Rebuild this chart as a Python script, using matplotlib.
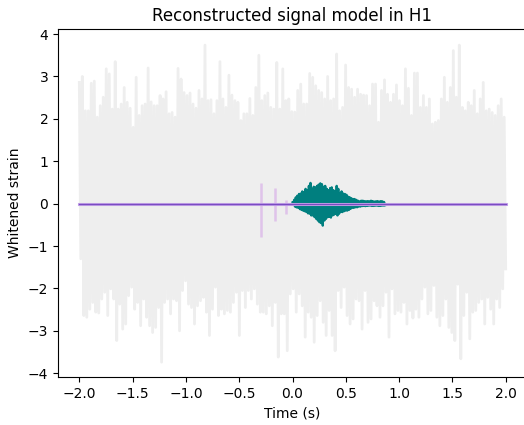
import numpy as np
import matplotlib
matplotlib.use("Agg")
import matplotlib.pyplot as plt

# Whitened noise envelope (upper / lower sample values), -2 s .. 2 s
noise_top = [
    2.86, 3.00, 2.19, 2.19, 2.84, 2.89, 2.04, 2.31, 2.51, 3.18, 3.06, 2.23, 3.35, 2.23, 2.35, 2.74,
    2.39, 2.25, 1.80, 2.98, 2.08, 2.31, 2.35, 3.20, 2.40, 2.31, 2.31, 2.55, 2.47, 2.64, 2.12, 2.15,
    2.04, 3.19, 2.94, 2.62, 2.55, 2.61, 2.35, 2.25, 2.67, 2.47, 3.74, 2.43, 2.45, 2.12, 2.43,
    3.35, 2.47, 2.27, 3.03, 2.56, 2.43, 2.39, 1.96, 2.12, 2.12, 2.48, 2.08, 2.74, 3.50, 2.43, 2.55,
    2.61, 2.27, 2.23, 3.33, 2.23, 3.18, 2.43, 2.47, 2.17, 2.16, 2.67, 2.82, 2.35, 2.35, 3.07, 2.98,
    2.78, 2.67, 2.62, 2.47, 3.00, 2.43, 2.47, 3.53, 2.19, 2.27, 3.27, 2.74, 2.70, 2.51, 2.70, 2.58,
    2.56, 2.55, 2.31, 2.82, 2.82, 1.92, 2.67, 2.92, 2.58, 2.39, 2.58, 2.80, 2.43, 2.31, 3.18, 2.72,
    2.08, 3.08, 3.08, 2.27, 2.55, 2.27, 2.47, 1.88, 1.92, 1.96, 2.47, 2.98, 2.39, 2.74, 3.61, 2.51,
    3.74, 2.27, 2.19, 2.39, 2.31, 2.67, 2.12, 2.47, 2.86, 2.19, 2.23, 2.15, 2.08, 2.31, 2.47, 2.04,
]
noise_bot = [
    -1.30, -2.64, -2.68, -2.49, -2.33, -2.56, -2.58, -2.25, -2.09, -2.64, -2.01, -2.25, -3.23, -2.37,
    -2.96, -2.84, -2.17, -1.97, -2.49, -2.33, -2.88, -2.25, -2.68, -2.88, -3.04, -2.92, -2.45, -3.74,
    -2.33, -2.25, -2.60, -2.25, -2.29, -3.00, -2.05, -1.82, -2.37, -2.45, -2.84, -2.41, -2.29, -2.21,
    -2.56, -3.11, -2.49, -1.97, -2.64,
    -2.49, -2.60, -2.52, -2.56, -2.33, -2.09, -3.11, -2.05, -2.45, -2.05, -2.25, -2.01, -2.37, -2.56,
    -2.56, -2.60, -2.41, -2.88, -2.33, -3.62, -2.60, -2.60, -3.47, -2.13, -2.01, -2.56, -2.13, -2.41,
    -3.15, -2.56, -2.68, -3.27, -2.64, -2.29, -2.80, -3.11, -2.52, -3.11, -3.47, -2.05, -2.45, -1.97,
    -2.64, -2.84, -2.72, -2.25, -2.29, -2.96,
    -2.05, -2.80, -2.72, -2.29, -2.41, -2.68, -2.41, -2.09, -3.15, -2.01, -2.60, -2.52, -2.56, -2.33,
    -2.84, -2.52, -2.70, -2.49, -2.68, -2.25, -1.97, -2.60, -2.52, -1.93, -2.68, -2.88, -2.64, -2.25,
    -2.92, -3.04, -3.23, -1.90, -3.66, -2.64, -2.09, -3.19, -2.56, -2.52, -2.33, -2.25, -2.84, -2.21,
    -2.49, -2.84, -2.25, -2.45, -2.01, -1.54,
]

# Reconstructed signal (teal) envelope, 0 s .. 0.867 s
signal_top = [
    0.03, 0.09, 0.15, 0.19, 0.23, 0.24, 0.29, 0.27, 0.35, 0.31, 0.42, 0.49, 0.35, 0.40, 0.385, 0.42,
    0.45, 0.48, 0.46, 0.40, 0.42, 0.35, 0.32, 0.37, 0.385, 0.32, 0.29, 0.42, 0.35, 0.24, 0.29, 0.24,
    0.23, 0.21, 0.165, 0.15, 0.13, 0.11, 0.11, 0.09, 0.07, 0.055, 0.07, 0.07, 0.06, 0.055, 0.06,
    0.055, 0.07, 0.06, 0.05, 0.055, 0.06, 0.05, 0.06, 0.055, 0.04,
]
signal_bot = [
    -0.02, -0.07, -0.09, -0.10, -0.13, -0.15, -0.165, -0.18, -0.20, -0.23, -0.24, -0.28, -0.28, -0.32,
    -0.36, -0.40, -0.44, -0.46, -0.52, -0.40, -0.36, -0.32, -0.31, -0.33, -0.28, -0.26, -0.24, -0.28,
    -0.24, -0.20, -0.20, -0.18, -0.165, -0.165, -0.15, -0.126, -0.10, -0.10, -0.087, -0.087, -0.07,
    -0.07, -0.06, -0.055, -0.06, -0.055, -0.05, -0.047, -0.055, -0.055, -0.05, -0.047, -0.055,
    -0.055, -0.05, -0.047, -0.04,
]
signal_start, signal_end = 0.0, 0.867

# Faint model spikes before the signal
spike_t = [-0.30, -0.16, -0.06]
spike_hi = [0.49, 0.38, 0.09]
spike_lo = [-0.79, -0.42, -0.24]

t_start, t_end = -2.0, 2.0

fig = plt.figure(figsize=(5.24, 4.25), dpi=100)
ax = fig.add_axes([58 / 524, 48 / 425, (527 - 58) / 524, (377 - 29) / 425])

# noise: interleave upper and lower samples into a dense trace
n = min(len(noise_top), len(noise_bot))
noise = np.empty(2 * n)
noise[0::2] = noise_top[:n]
noise[1::2] = noise_bot[:n]
tn = np.linspace(t_start, t_end, len(noise))
ax.plot(tn, noise, color="#eeeeee", lw=2.0, zorder=1)

# spikes
ax.vlines(spike_t, spike_lo, spike_hi, color="#dfc3ea", lw=1.8, zorder=2)

# signal
m = min(len(signal_top), len(signal_bot))
sig = np.empty(2 * m)
sig[0::2] = signal_top[:m]
sig[1::2] = signal_bot[:m]
ts = np.linspace(signal_start, signal_end, len(sig))
ax.plot(ts, sig, color="#007f7f", lw=1.6, zorder=3)

# model baseline
ax.plot([t_start, t_end], [0, 0], color="#c9a9ea", lw=2.2, zorder=4)
ax.plot([t_start, t_end], [0, 0], color="#7a4cc2", lw=1.0, zorder=5)

ax.set_xlim(-2.2, 2.2)
ax.set_ylim(-4.09, 4.12)
ax.set_xticks(np.arange(-2.0, 2.01, 0.5))
ax.set_yticks(np.arange(-4, 5, 1))
ax.set_title("Reconstructed signal model in H1", fontsize=12)
ax.set_xlabel("Time (s)")
ax.set_ylabel("Whitened strain")

fig.savefig("out.png", dpi=100)
